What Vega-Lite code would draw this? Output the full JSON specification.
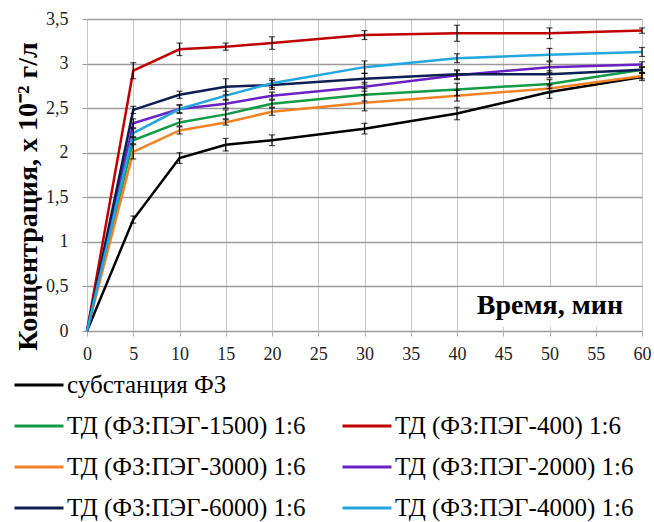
{
  "$schema": "https://vega.github.io/schema/vega-lite/v6.json",
  "width": 555,
  "height": 312,
  "autosize": {"type": "none"},
  "padding": {"left": 87, "top": 19, "right": 12, "bottom": 191},
  "background": "white",
  "config": {
    "view": {"stroke": null},
    "font": "Liberation Serif, Times New Roman, serif"
  },
  "datasets": {
    "series": [
      {"s": "субстанция ФЗ", "t": 0, "c": 0, "e": 0},
      {"s": "субстанция ФЗ", "t": 5, "c": 1.25, "e": 0.04},
      {"s": "субстанция ФЗ", "t": 10, "c": 1.94, "e": 0.06},
      {"s": "субстанция ФЗ", "t": 15, "c": 2.09, "e": 0.07},
      {"s": "субстанция ФЗ", "t": 20, "c": 2.14, "e": 0.06},
      {"s": "субстанция ФЗ", "t": 30, "c": 2.27, "e": 0.06},
      {"s": "субстанция ФЗ", "t": 40, "c": 2.44, "e": 0.07},
      {"s": "субстанция ФЗ", "t": 50, "c": 2.68, "e": 0.07},
      {"s": "субстанция ФЗ", "t": 60, "c": 2.85, "e": 0.04},
      {"s": "ТД (ФЗ:ПЭГ-1500) 1:6", "t": 0, "c": 0, "e": 0},
      {"s": "ТД (ФЗ:ПЭГ-1500) 1:6", "t": 5, "c": 2.14, "e": 0.04},
      {"s": "ТД (ФЗ:ПЭГ-1500) 1:6", "t": 10, "c": 2.34, "e": 0.04},
      {"s": "ТД (ФЗ:ПЭГ-1500) 1:6", "t": 15, "c": 2.43, "e": 0.05},
      {"s": "ТД (ФЗ:ПЭГ-1500) 1:6", "t": 20, "c": 2.55, "e": 0.04},
      {"s": "ТД (ФЗ:ПЭГ-1500) 1:6", "t": 30, "c": 2.65, "e": 0.07},
      {"s": "ТД (ФЗ:ПЭГ-1500) 1:6", "t": 40, "c": 2.71, "e": 0.07},
      {"s": "ТД (ФЗ:ПЭГ-1500) 1:6", "t": 50, "c": 2.77, "e": 0.05},
      {"s": "ТД (ФЗ:ПЭГ-1500) 1:6", "t": 60, "c": 2.93, "e": 0.03},
      {"s": "ТД (ФЗ:ПЭГ-400) 1:6", "t": 0, "c": 0, "e": 0},
      {"s": "ТД (ФЗ:ПЭГ-400) 1:6", "t": 5, "c": 2.92, "e": 0.09},
      {"s": "ТД (ФЗ:ПЭГ-400) 1:6", "t": 10, "c": 3.16, "e": 0.07},
      {"s": "ТД (ФЗ:ПЭГ-400) 1:6", "t": 15, "c": 3.19, "e": 0.04},
      {"s": "ТД (ФЗ:ПЭГ-400) 1:6", "t": 20, "c": 3.23, "e": 0.07},
      {"s": "ТД (ФЗ:ПЭГ-400) 1:6", "t": 30, "c": 3.32, "e": 0.05},
      {"s": "ТД (ФЗ:ПЭГ-400) 1:6", "t": 40, "c": 3.34, "e": 0.09},
      {"s": "ТД (ФЗ:ПЭГ-400) 1:6", "t": 50, "c": 3.34, "e": 0.06},
      {"s": "ТД (ФЗ:ПЭГ-400) 1:6", "t": 60, "c": 3.37, "e": 0.03},
      {"s": "ТД (ФЗ:ПЭГ-3000) 1:6", "t": 0, "c": 0, "e": 0},
      {"s": "ТД (ФЗ:ПЭГ-3000) 1:6", "t": 5, "c": 2.01, "e": 0.08},
      {"s": "ТД (ФЗ:ПЭГ-3000) 1:6", "t": 10, "c": 2.25, "e": 0.04},
      {"s": "ТД (ФЗ:ПЭГ-3000) 1:6", "t": 15, "c": 2.34, "e": 0.03},
      {"s": "ТД (ФЗ:ПЭГ-3000) 1:6", "t": 20, "c": 2.46, "e": 0.04},
      {"s": "ТД (ФЗ:ПЭГ-3000) 1:6", "t": 30, "c": 2.56, "e": 0.09},
      {"s": "ТД (ФЗ:ПЭГ-3000) 1:6", "t": 40, "c": 2.64, "e": 0.06},
      {"s": "ТД (ФЗ:ПЭГ-3000) 1:6", "t": 50, "c": 2.72, "e": 0.05},
      {"s": "ТД (ФЗ:ПЭГ-3000) 1:6", "t": 60, "c": 2.86, "e": 0.03},
      {"s": "ТД (ФЗ:ПЭГ-2000) 1:6", "t": 0, "c": 0, "e": 0},
      {"s": "ТД (ФЗ:ПЭГ-2000) 1:6", "t": 5, "c": 2.33, "e": 0.05},
      {"s": "ТД (ФЗ:ПЭГ-2000) 1:6", "t": 10, "c": 2.49, "e": 0.04},
      {"s": "ТД (ФЗ:ПЭГ-2000) 1:6", "t": 15, "c": 2.55, "e": 0.05},
      {"s": "ТД (ФЗ:ПЭГ-2000) 1:6", "t": 20, "c": 2.64, "e": 0.04},
      {"s": "ТД (ФЗ:ПЭГ-2000) 1:6", "t": 30, "c": 2.74, "e": 0.05},
      {"s": "ТД (ФЗ:ПЭГ-2000) 1:6", "t": 40, "c": 2.87, "e": 0.05},
      {"s": "ТД (ФЗ:ПЭГ-2000) 1:6", "t": 50, "c": 2.96, "e": 0.06},
      {"s": "ТД (ФЗ:ПЭГ-2000) 1:6", "t": 60, "c": 2.99, "e": 0.03},
      {"s": "ТД (ФЗ:ПЭГ-6000) 1:6", "t": 0, "c": 0, "e": 0},
      {"s": "ТД (ФЗ:ПЭГ-6000) 1:6", "t": 5, "c": 2.48, "e": 0.04},
      {"s": "ТД (ФЗ:ПЭГ-6000) 1:6", "t": 10, "c": 2.65, "e": 0.04},
      {"s": "ТД (ФЗ:ПЭГ-6000) 1:6", "t": 15, "c": 2.74, "e": 0.09},
      {"s": "ТД (ФЗ:ПЭГ-6000) 1:6", "t": 20, "c": 2.76, "e": 0.05},
      {"s": "ТД (ФЗ:ПЭГ-6000) 1:6", "t": 30, "c": 2.83, "e": 0.06},
      {"s": "ТД (ФЗ:ПЭГ-6000) 1:6", "t": 40, "c": 2.88, "e": 0.05},
      {"s": "ТД (ФЗ:ПЭГ-6000) 1:6", "t": 50, "c": 2.88, "e": 0.04},
      {"s": "ТД (ФЗ:ПЭГ-6000) 1:6", "t": 60, "c": 2.93, "e": 0.03},
      {"s": "ТД (ФЗ:ПЭГ-4000) 1:6", "t": 0, "c": 0, "e": 0},
      {"s": "ТД (ФЗ:ПЭГ-4000) 1:6", "t": 5, "c": 2.22, "e": 0.05},
      {"s": "ТД (ФЗ:ПЭГ-4000) 1:6", "t": 10, "c": 2.49, "e": 0.05},
      {"s": "ТД (ФЗ:ПЭГ-4000) 1:6", "t": 15, "c": 2.64, "e": 0.05},
      {"s": "ТД (ФЗ:ПЭГ-4000) 1:6", "t": 20, "c": 2.78, "e": 0.05},
      {"s": "ТД (ФЗ:ПЭГ-4000) 1:6", "t": 30, "c": 2.96, "e": 0.07},
      {"s": "ТД (ФЗ:ПЭГ-4000) 1:6", "t": 40, "c": 3.06, "e": 0.05},
      {"s": "ТД (ФЗ:ПЭГ-4000) 1:6", "t": 50, "c": 3.10, "e": 0.07},
      {"s": "ТД (ФЗ:ПЭГ-4000) 1:6", "t": 60, "c": 3.13, "e": 0.05}
    ],
    "label": [{"text": "Время, мин"}]
  },
  "layer": [
    {
      "data": {"name": "series"},
      "mark": {"type": "line", "strokeWidth": 2.5, "clip": false},
      "encoding": {
        "x": {
          "field": "t", "type": "quantitative",
          "scale": {"domain": [0, 60], "nice": false},
          "axis": {
            "values": [0, 5, 10, 15, 20, 25, 30, 35, 40, 45, 50, 55, 60],
            "title": null,
            "domain": false,
            "grid": true, "gridColor": "#c8c8c8", "gridWidth": 1,
            "ticks": true, "tickSize": 5, "tickColor": "#b0b0b0",
            "labelPadding": 9, "labelFont": "Liberation Serif, Times New Roman, serif", "labelFontSize": 18,
            "labelColor": "#222222", "labelFlush": false
          }
        },
        "y": {
          "field": "c", "type": "quantitative",
          "scale": {"domain": [0, 3.5], "nice": false},
          "title": "Концентрация, х 10⁻² г/л",
          "axis": {
            "values": [0, 0.5, 1, 1.5, 2, 2.5, 3, 3.5],
            "labelExpr": "replace(toString(datum.value), '.', ',')",
            "titleFont": "Liberation Serif, Times New Roman, serif", "titleFontSize": 28, "titleFontWeight": "bold",
            "titleColor": "#000000", "titleX": -45, "titleY": 177, "titleAngle": -90,
            "titleAlign": "center", "titleBaseline": "bottom",
            "domain": false,
            "grid": true, "gridColor": "#9a9a9a", "gridWidth": 1.5,
            "ticks": true, "tickSize": 5, "tickColor": "#9a9a9a",
            "labelPadding": 14, "labelFont": "Liberation Serif, Times New Roman, serif", "labelFontSize": 18,
            "labelColor": "#222222"
          }
        },
        "color": {
          "field": "s", "type": "nominal",
          "scale": {
            "domain": ["субстанция ФЗ", "ТД (ФЗ:ПЭГ-1500) 1:6", "ТД (ФЗ:ПЭГ-3000) 1:6", "ТД (ФЗ:ПЭГ-6000) 1:6", " ", "ТД (ФЗ:ПЭГ-400) 1:6", "ТД (ФЗ:ПЭГ-2000) 1:6", "ТД (ФЗ:ПЭГ-4000) 1:6"],
            "range": ["#000000", "#119b45", "#f08224", "#0d1f52", "#ffffff", "#c00000", "#6a22c4", "#22a6e0"]
          },
          "legend": {
            "title": null,
            "orient": "none",
            "legendX": -74,
            "legendY": 353,
            "columns": 2,
            "padding": 0,
            "symbolType": "stroke",
            "symbolSize": 2400,
            "symbolStrokeWidth": 3,
            "clipHeight": 26,
            "labelFont": "Liberation Serif, Times New Roman, serif",
            "labelFontSize": 25,
            "labelColor": "#000000",
            "labelLimit": 500,
            "labelOffset": 2,
            "rowPadding": 15,
            "columnPadding": 35
          }
        }
      }
    },
    {
      "data": {"name": "series"},
      "transform": [{"filter": "datum.t > 0"}],
      "mark": {"type": "errorbar", "ticks": {"size": 6, "color": "#000000"}, "color": "#000000", "thickness": 1.2},
      "encoding": {
        "x": {"field": "t", "type": "quantitative"},
        "y": {"field": "c", "type": "quantitative", "title": "Концентрация, х 10⁻² г/л"},
        "yError": {"field": "e"}
      }
    },
    {
      "data": {"name": "label"},
      "mark": {"type": "rect", "fill": "white", "stroke": null},
      "encoding": {
        "x": {"datum": 40.15, "type": "quantitative"},
        "x2": {"datum": 59.9},
        "y": {"datum": 0.048, "type": "quantitative"},
        "y2": {"datum": 0.49}
      }
    },
    {
      "data": {"name": "label"},
      "mark": {"type": "text", "font": "Liberation Serif, Times New Roman, serif", "fontSize": 28, "fontWeight": "bold", "color": "#000000", "align": "center", "baseline": "middle"},
      "encoding": {
        "x": {"datum": 50.05, "type": "quantitative"},
        "y": {"datum": 0.28, "type": "quantitative"},
        "text": {"field": "text"}
      }
    }
  ]
}
